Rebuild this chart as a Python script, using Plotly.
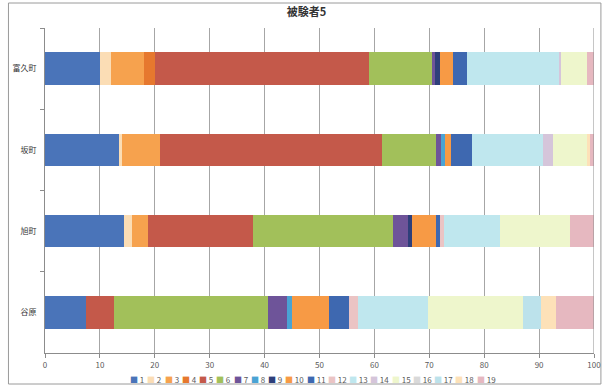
import plotly.graph_objects as go

# Categories listed top to bottom
categories = ["富久町", "坂町", "旭町", "谷原"]

series_names = [str(i) for i in range(1, 20)]

# Share (%) of each series per category, same order as categories
s1 = [10.1, 13.5, 14.4, 7.4]
s2 = [1.9, 0.6, 1.5, 0.0]
s3 = [6.0, 6.9, 2.9, 0.0]
s4 = [2.0, 0.0, 0.0, 0.0]
s5 = [39.0, 40.3, 19.0, 5.1]
s6 = [11.5, 10.0, 25.5, 28.1]
s7 = [0.5, 0.9, 2.8, 3.5]
s8 = [0.0, 0.6, 0.0, 0.9]
s9 = [0.9, 0.0, 0.7, 0.0]
s10 = [2.4, 1.2, 4.4, 6.8]
s11 = [2.6, 3.8, 0.7, 3.5]
s12 = [0.0, 0.0, 0.8, 1.8]
s13 = [16.8, 12.9, 10.2, 12.6]
s14 = [0.3, 1.8, 0.0, 0.0]
s15 = [4.8, 6.3, 12.8, 17.3]
s16 = [0.0, 0.0, 0.0, 0.0]
s17 = [0.0, 0.0, 0.0, 3.4]
s18 = [0.0, 0.5, 0.0, 2.6]
s19 = [1.2, 0.7, 4.3, 7.0]

series_values = [s1, s2, s3, s4, s5, s6, s7, s8, s9, s10,
                 s11, s12, s13, s14, s15, s16, s17, s18, s19]

colors = ["#4A74B9", "#FBDDB5", "#F6A24E", "#E6782E", "#C4594A",
          "#A2C05A", "#6E5499", "#4AA3D4", "#2E3F7A", "#F79A45",
          "#3E68B0", "#EBC4C4", "#BFE7EE", "#D5C5DA", "#EEF6CC",
          "#D9D9D9", "#BCE2EB", "#FDE1B8", "#E6B8C0"]

x_ticks = list(range(0, 101, 10))

# plot-area geometry in pixels
W, H = 613, 385
ML, MR, MT, MB = 44, 13, 28, 32
PW, PH = W - ML - MR, H - MT - MB


def px_x(p):
    return (p - ML) / PW


def px_y(p):
    return (H - MB - p) / PH


fig = go.Figure()
for name, vals, col in zip(series_names, series_values, colors):
    fig.add_trace(go.Bar(
        y=categories, x=vals, name=name, orientation="h",
        marker=dict(color=col, line=dict(width=0)),
        showlegend=False,
    ))

# legend row drawn as coloured squares followed by the series number
annotations = []
pos = 128.0
for name, col in zip(series_names, colors):
    annotations.append(dict(
        text=f"<span style='color:{col}'>■</span> {name}",
        xref="paper", yref="paper", x=px_x(pos), y=px_y(379),
        xanchor="left", yanchor="middle", showarrow=False,
        font=dict(size=8, color="#595959", family="Noto Sans CJK JP"),
    ))
    pos += 13.5 + 4.0 * len(name)

fig.update_layout(
    width=W, height=H,
    margin=dict(l=ML, r=MR, t=MT, b=MB),
    paper_bgcolor="white", plot_bgcolor="white",
    barmode="stack", bargap=0.6,
    title=dict(text="<b>被験者5</b>", x=0.5, xanchor="center",
               y=1 - 12 / H, yanchor="middle",
               font=dict(size=11, color="#333333", family="Noto Sans CJK JP")),
    xaxis=dict(range=[0, 100], tickvals=x_ticks, ticktext=[str(t) for t in x_ticks],
               showgrid=True, gridcolor="#A6A6A6", gridwidth=1,
               showline=True, linecolor="#8C8C8C", linewidth=1,
               ticks="outside", ticklen=4, tickcolor="#8C8C8C",
               tickfont=dict(size=8, color="#595959", family="Noto Sans CJK JP"),
               zeroline=False, fixedrange=True),
    yaxis=dict(autorange="reversed", showline=True, linecolor="#8C8C8C", linewidth=1,
               ticks="outside", tickson="boundaries", ticklen=4, tickcolor="#8C8C8C",
               ticklabelstandoff=6,
               tickfont=dict(size=8, color="#333333", family="Noto Sans CJK JP"),
               showgrid=False, fixedrange=True),
    annotations=annotations,
    shapes=[
        dict(type="line", xref="x", yref="paper", x0=100, x1=100, y0=0, y1=1,
             line=dict(color="#8C8C8C", width=1)),
        dict(type="rect", xref="paper", yref="paper",
             x0=px_x(7), x1=px_x(607), y0=px_y(384), y1=px_y(3),
             line=dict(color="#9A9A9A", width=1), fillcolor="rgba(0,0,0,0)",
             layer="below"),
    ],
)

fig.write_html("out.html")
